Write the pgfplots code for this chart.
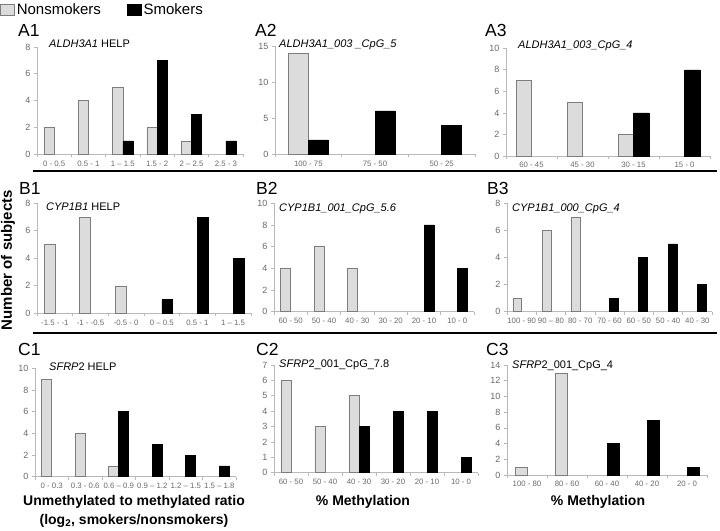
\documentclass[border=0pt]{standalone}
\usepackage{fontspec}
\setmainfont{Liberation Sans}
\usepackage{pgfplots}
\pgfplotsset{compat=1.18}
\definecolor{nsfill}{RGB}{220,220,220}
\definecolor{nsedge}{RGB}{125,125,125}
\definecolor{axgray}{RGB}{185,185,185}
\definecolor{tickgray}{RGB}{105,105,105}
\pgfplotsset{
  panel/.style={
    scale only axis,
    anchor=south west,
    ybar=0pt, bar width=0.3,
    axis lines*=left,
    axis line style={draw=axgray, line width=0.7pt},
    tick style={draw=axgray, line width=0.7pt},
    tick align=outside, major tick length=3pt,
    ymin=0, xmin=-0.5,
    x tick label as interval,
    /pgf/number format/assume math mode=true,
    yticklabel style={font=\fontsize{9}{10}\selectfont, text=tickgray},
    xticklabel style={font=\fontsize{7.8}{8}\selectfont, text=tickgray},
    clip=false,
  },
  ns/.style={fill=nsfill, draw=nsedge, line width=0.6pt, bar shift=-0.15},
  sm/.style={fill=black, draw=black, line width=0.6pt, bar shift=0.15},
}
\newcommand{\ttl}{\fontsize{11}{12}\selectfont}
\newcommand{\lett}{\fontsize{17.5}{18}\selectfont}
\newcommand{\lab}{\fontsize{14}{16}\selectfont\bfseries}
\begin{document}
\begin{tikzpicture}
\path[use as bounding box] (0pt,0pt) rectangle (720pt,-530pt);

% ---------------- A1
\begin{axis}[panel, at={(37pt,-154.3pt)}, width=206pt, height=107.3pt,
  xmax=5.5, ymax=8, ytick={0,2,...,8}, xtick={-0.5,0.5,...,5.5},
  xticklabels={0 - 0.5,0.5 - 1,1 – 1.5,1.5 - 2,2 – 2.5,2.5 - 3},
  legend style={at={(-0.1796,1.4287)}, anchor=north west, draw=none, fill=none,
    legend columns=2, font=\fontsize{15}{16}\selectfont, inner sep=0pt,
    /tikz/every even column/.append style={column sep=24pt}},
  legend cell align=left,
  legend image code/.code={\draw[#1] (0pt,-5.5pt) rectangle (14pt,5.5pt);}]
\addplot[ns] coordinates {(0,2) (1,4) (2,5) (3,2) (4,1)};
\addplot[sm] coordinates {(2,1) (3,7) (4,3) (5,1)};
\legend{Nonsmokers, Smokers}
\end{axis}

% ---------------- A2
\begin{axis}[panel, at={(275pt,-154.3pt)}, width=200pt, height=108.3pt,
  xmax=2.5, ymax=15, ytick={0,5,10,15}, xtick={-0.5,0.5,1.5,2.5},
  xticklabels={100 - 75,75 - 50,50 - 25}]
\addplot[ns] coordinates {(0,14)};
\addplot[sm] coordinates {(0,2) (1,6) (2,4)};
\end{axis}

% ---------------- A3
\begin{axis}[panel, at={(506pt,-156pt)}, width=204pt, height=107.7pt,
  xmax=3.5, ymax=10, ytick={0,2,...,10}, xtick={-0.5,0.5,...,3.5},
  xticklabels={60 - 45,45 - 30,30 - 15,15 - 0}]
\addplot[ns] coordinates {(0,7) (1,5) (2,2)};
\addplot[sm] coordinates {(2,4) (3,8)};
\end{axis}

% ---------------- B1
\begin{axis}[panel, at={(37pt,-313.3pt)}, width=214pt, height=110pt,
  xmax=5.5, ymax=8, ytick={0,2,...,8}, xtick={-0.5,0.5,...,5.5},
  xticklabels={-1.5 - -1,-1 - -0.5,-0.5 - 0,0 – 0.5,0.5 - 1,1 – 1.5}]
\addplot[ns] coordinates {(0,5) (1,7) (2,2)};
\addplot[sm] coordinates {(3,1) (4,7) (5,4)};
\end{axis}

% ---------------- B2
\begin{axis}[panel, at={(274pt,-311.7pt)}, width=200pt, height=108.4pt,
  xmax=5.5, ymax=10, ytick={0,2,...,10}, xtick={-0.5,0.5,...,5.5},
  xticklabels={60 - 50,50 - 40,40 - 30,30 - 20,20 - 10,10 - 0}]
\addplot[ns] coordinates {(0,4) (1,6) (2,4)};
\addplot[sm] coordinates {(4,8) (5,4)};
\end{axis}

% ---------------- B3
\begin{axis}[panel, at={(507pt,-311.7pt)}, width=205pt, height=108.4pt,
  xmax=6.5, ymax=8, ytick={0,2,...,8}, xtick={-0.5,0.5,...,6.5},
  xticklabels={100 - 90,90 – 80,80 - 70,70 - 60,60 - 50,50 - 40,40 - 30}]
\addplot[ns] coordinates {(0,1) (1,6) (2,7)};
\addplot[sm] coordinates {(3,1) (4,4) (5,5) (6,2)};
\end{axis}

% ---------------- C1
\begin{axis}[panel, at={(35pt,-476.7pt)}, width=201pt, height=108.4pt,
  xmax=5.5, ymax=10, ytick={0,2,...,10}, xtick={-0.5,0.5,...,5.5},
  xticklabels={0 - 0.3,0.3 - 0.6,0.6 – 0.9,0.9 – 1.2,1.2 – 1.5,1.5 – 1.8}]
\addplot[ns] coordinates {(0,9) (1,4) (2,1)};
\addplot[sm] coordinates {(2,6) (3,3) (4,2) (5,1)};
\end{axis}

% ---------------- C2
\begin{axis}[panel, at={(274pt,-472.7pt)}, width=204pt, height=107.7pt,
  xmax=5.5, ymax=7, ytick={0,1,...,7}, xtick={-0.5,0.5,...,5.5},
  xticklabels={60 - 50,50 - 40,40 - 30,30 - 20,20 - 10,10 - 0}]
\addplot[ns] coordinates {(0,6) (1,3) (2,5)};
\addplot[sm] coordinates {(2,3) (3,4) (4,4) (5,1)};
\end{axis}

% ---------------- C3
\begin{axis}[panel, at={(507pt,-475pt)}, width=200pt, height=110pt,
  xmax=4.5, ymax=14, ytick={0,2,...,14}, xtick={-0.5,0.5,...,4.5},
  xticklabels={100 - 80,80 - 60,60 - 40,40 - 20,20 - 0}]
\addplot[ns] coordinates {(0,1) (1,13)};
\addplot[sm] coordinates {(2,4) (3,7) (4,1)};
\end{axis}

% separators
\draw[line width=1.8pt] (33pt,-171pt) -- (717pt,-171pt);
\draw[line width=1.8pt] (33pt,-333pt) -- (717pt,-333pt);

% panel letters
\node[anchor=base west, inner sep=0pt, font=\lett] at (18pt,-36pt) {A1};
\node[anchor=base west, inner sep=0pt, font=\lett] at (255pt,-36pt) {A2};
\node[anchor=base west, inner sep=0pt, font=\lett] at (485pt,-36pt) {A3};
\node[anchor=base west, inner sep=0pt, font=\lett] at (19pt,-194pt) {B1};
\node[anchor=base west, inner sep=0pt, font=\lett] at (256pt,-194pt) {B2};
\node[anchor=base west, inner sep=0pt, font=\lett] at (487pt,-194pt) {B3};
\node[anchor=base west, inner sep=0pt, font=\lett] at (18pt,-355pt) {C1};
\node[anchor=base west, inner sep=0pt, font=\lett] at (256pt,-355pt) {C2};
\node[anchor=base west, inner sep=0pt, font=\lett] at (486pt,-355pt) {C3};

% panel titles
\node[anchor=base west, inner sep=0pt, font=\ttl] at (49pt,-47.5pt) {\textit{ALDH3A1} HELP};
\node[anchor=base west, inner sep=0pt, font=\ttl] at (279pt,-47.5pt) {\textit{ALDH3A1\_003 \_CpG\_5}};
\node[anchor=base west, inner sep=0pt, font=\ttl] at (518pt,-48pt) {\textit{ALDH3A1\_003\_CpG\_4}};
\node[anchor=base west, inner sep=0pt, font=\ttl] at (46pt,-210pt) {\textit{CYP1B1} HELP};
\node[anchor=base west, inner sep=0pt, font=\ttl] at (279pt,-211pt) {\textit{CYP1B1\_001\_CpG\_5.6}};
\node[anchor=base west, inner sep=0pt, font=\ttl] at (512pt,-211pt) {\textit{CYP1B1\_000\_CpG\_4}};
\node[anchor=base west, inner sep=0pt, font=\ttl] at (49pt,-370pt) {\textit{SFRP}2 HELP};
\node[anchor=base west, inner sep=0pt, font=\ttl] at (279pt,-367pt) {\textit{SFRP}2\_001\_CpG\_7.8};
\node[anchor=base west, inner sep=0pt, font=\ttl] at (512pt,-368pt) {\textit{SFRP}2\_001\_CpG\_4};

% axis labels
\node[rotate=90, anchor=base, inner sep=0pt, font=\fontsize{15}{16}\selectfont\bfseries] at (12pt,-260pt) {Number of subjects};
\node[anchor=base, inner sep=0pt, font=\lab] at (134pt,-505pt) {Unmethylated to methylated ratio};
\node[anchor=base, inner sep=0pt, font=\lab] at (134pt,-524pt) {(log\textsubscript{2}, smokers/nonsmokers)};
\node[anchor=base, inner sep=0pt, font=\lab] at (363pt,-505pt) {\% Methylation};
\node[anchor=base, inner sep=0pt, font=\lab] at (598pt,-505pt) {\% Methylation};
\end{tikzpicture}
\end{document}
